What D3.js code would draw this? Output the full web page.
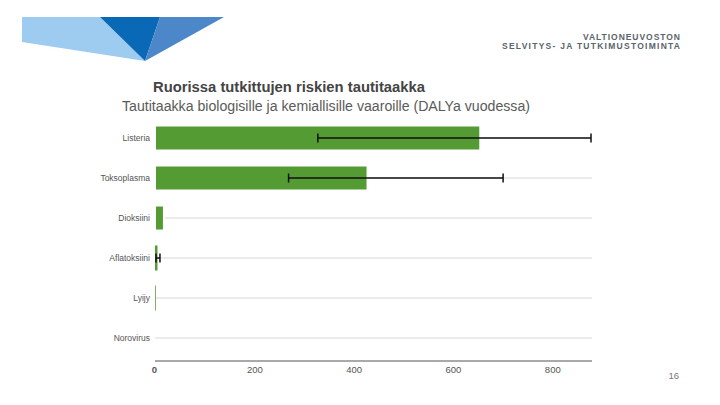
<!DOCTYPE html>
<html lang="fi">
<head>
<meta charset="UTF-8">
<title>Tautitaakka</title>
<script src="https://d3js.org/d3.v7.min.js"></script>
<style>
  body { margin: 0; background: #fff; }
  svg { display: block; font-family: "Liberation Sans", Arial, sans-serif; }
  .cat text { font-size: 8.5px; fill: #555; }
  .xax text { font-size: 9.5px; fill: #555; }
</style>
</head>
<body>
<svg width="720" height="405"></svg>
<script>
// data
var categories = ["Listeria", "Toksoplasma", "Dioksiini", "Aflatoksiini", "Lyijy", "Norovirus"];
var values = [655, 428, 18, 5, 1, 0];
var errLow = [328, 269, null, 2, null, null];
var errHigh = [878, 701, null, 10, null, null];
var xTicks = [0, 200, 400, 600, 800];

var svg = d3.select("svg");

// logo
var logo = svg.append("g");
logo.append("polygon").attr("points", "22,17 100,17 145,61 22,42").attr("fill", "#9ecbf0");
logo.append("polygon").attr("points", "100,17 160,17 145,61").attr("fill", "#0a69b6");
logo.append("polygon").attr("points", "160,17 224,17 145,61").attr("fill", "#4b87c9");

svg.append("text").attr("x", 680).attr("y", 40).attr("text-anchor", "end")
  .attr("font-size", 8.5).attr("font-weight", "bold").attr("fill", "#5a646c")
  .attr("textLength", 97).attr("lengthAdjust", "spacing")
  .text("VALTIONEUVOSTON");
svg.append("text").attr("x", 680).attr("y", 48.5).attr("text-anchor", "end")
  .attr("font-size", 8.5).attr("font-weight", "bold").attr("fill", "#5a646c")
  .attr("textLength", 178).attr("lengthAdjust", "spacing")
  .text("SELVITYS- JA TUTKIMUSTOIMINTA");

// titles
svg.append("text").attr("x", 153).attr("y", 92)
  .attr("font-size", 14).attr("font-weight", "bold").attr("fill", "#444")
  .attr("textLength", 272).attr("lengthAdjust", "spacingAndGlyphs")
  .text("Ruorissa tutkittujen riskien tautitaakka");
svg.append("text").attr("x", 122).attr("y", 111)
  .attr("font-size", 14).attr("fill", "#5a5a5a")
  .attr("textLength", 408).attr("lengthAdjust", "spacingAndGlyphs")
  .text("Tautitaakka biologisille ja kemiallisille vaaroille (DALYa vuodessa)");

// scales
var x = d3.scaleLinear().domain([0, 880]).range([155, 592]);
var y = d3.scaleBand().domain(categories).range([118, 358])
  .paddingInner(0.375).paddingOuter(0.1875);

var rows = categories.map(function(c, i) {
  return { cat: c, v: values[i], lo: errLow[i], hi: errHigh[i] };
});
function mid(d) { return y(d.cat) + y.bandwidth() / 2; }

// gridlines at category centres
svg.append("g").selectAll("line").data(rows).enter().append("line")
  .attr("x1", x(0)).attr("x2", x(880))
  .attr("y1", mid).attr("y2", mid)
  .attr("stroke", "#e4e4e4").attr("stroke-width", 1.5);

// bars
svg.append("g").selectAll("rect").data(rows.filter(function(d) { return d.v > 0; }))
  .enter().append("rect")
  .attr("x", x(0))
  .attr("y", function(d) { return y(d.cat); })
  .attr("width", function(d) { return Math.max(1, x(d.v) - x(0)); })
  .attr("height", y.bandwidth())
  .attr("fill", function(d) { return d.v > 1 ? "#559b33" : "#7fb066"; })
  .attr("stroke", "#fff").attr("stroke-width", function(d) { return d.v > 5 ? 2 : 0; });

// error bars
var eb = svg.append("g").selectAll("g").data(rows.filter(function(d) { return d.lo != null; }))
  .enter().append("g")
  .attr("stroke", "#111").attr("stroke-width", 1.5);
eb.append("line")
  .attr("x1", function(d) { return x(d.lo); }).attr("x2", function(d) { return x(d.hi); })
  .attr("y1", mid).attr("y2", mid);
eb.append("line")
  .attr("x1", function(d) { return x(d.lo); }).attr("x2", function(d) { return x(d.lo); })
  .attr("y1", function(d) { return mid(d) - 4.5; })
  .attr("y2", function(d) { return mid(d) + 4.5; });
eb.append("line")
  .attr("x1", function(d) { return x(d.hi); }).attr("x2", function(d) { return x(d.hi); })
  .attr("y1", function(d) { return mid(d) - 4.5; })
  .attr("y2", function(d) { return mid(d) + 4.5; });

// category labels
var yAxis = svg.append("g").attr("class", "cat")
  .attr("transform", "translate(" + (x(0) - 5) + ",0)")
  .call(d3.axisLeft(y).tickSize(0).tickPadding(0));
yAxis.select(".domain").remove();

// x axis
var xAxis = svg.append("g").attr("class", "xax")
  .attr("transform", "translate(0,361)")
  .call(d3.axisBottom(x).tickValues(xTicks).tickSize(0).tickPadding(5));
xAxis.select(".domain").attr("stroke", "#555").attr("d", "M" + x(0) + ",0H" + x(880));
xAxis.selectAll("text").filter(function(d) { return d === 0; })
  .attr("font-weight", "bold").attr("font-size", 10.5).attr("dx", -1);

// page number
svg.append("text").attr("x", 679).attr("y", 379).attr("text-anchor", "end")
  .attr("font-size", 9.5).attr("fill", "#777").text("16");
</script>
</body>
</html>
